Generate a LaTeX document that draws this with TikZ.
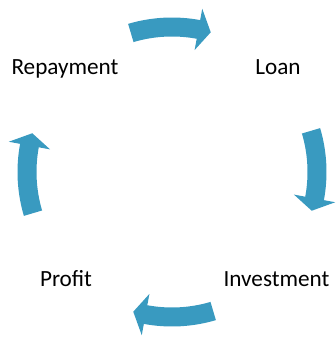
\documentclass[tikz,border=0pt]{standalone}
\usepackage{fontspec}
\setmainfont{Carlito}
\usepackage{tikz}
\usetikzlibrary{calc,positioning}
\definecolor{cycleblue}{RGB}{57,154,192}
\tikzstyle{stage} = [inner sep=0pt, anchor=base, text=black,
    font=\fontsize{23.2}{28}\selectfont]
\tikzstyle{bentarrow} = [fill=cycleblue, draw=none]

\begin{document}
\begin{tikzpicture}[x=1pt,y=1pt]
        \useasboundingbox (0,0) rectangle (335,339);
        \coordinate (hub) at (172,167);
        \node (repay) [stage] at (65,264) {Repayment};
        \node (loan) [stage] at (278,264) {Loan};
        \node (invest) [stage] at (276.5,52) {Investment};
        \node (profit) [stage] at (66,52) {Profit};
        % one bent arrow per step, turned round the hub
        \foreach \turn in {0,-90,-180,-270} {
            \begin{scope}[shift={(hub)}, rotate=\turn]
                \fill [bentarrow] (106.5:135.5) arc[start angle=106.5, end angle=79.5, radius=135.5]
                    -- (79.5:124) -- (74.5:145) -- (79.5:166) -- (79.5:154.5)
                    arc[start angle=79.5, end angle=106.5, radius=154.5] -- cycle;
            \end{scope}
        }
    \end{tikzpicture}
\end{document}
